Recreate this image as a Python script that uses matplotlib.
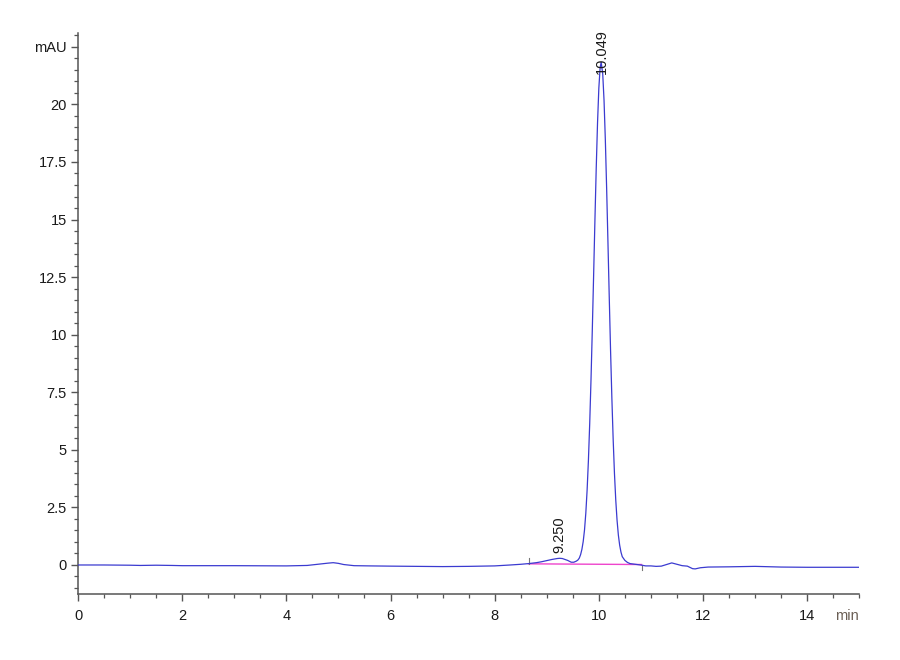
import matplotlib
matplotlib.use("Agg")
import matplotlib.pyplot as plt
import matplotlib.transforms as mtrans
from matplotlib.ticker import MultipleLocator

# ---- data ----
time_min = [0.0, 0.5, 1.0, 1.2, 1.5, 1.8, 2.0, 3.0, 4.0, 4.4, 4.6, 4.8, 4.9, 5.0, 5.1,
            5.3, 5.6, 6.0, 6.5, 7.0, 7.5, 8.0, 8.3, 8.5, 8.65, 8.8, 8.9, 9.0, 9.1,
            9.2, 9.25, 9.3, 9.4, 9.47, 9.52, 9.57, 9.6, 9.625, 9.65, 9.675, 9.7,
            9.725, 9.75, 9.775, 9.8, 9.825, 9.85, 9.875, 9.9, 9.925, 9.95, 9.975,
            10.0, 10.025, 10.045, 10.075, 10.1, 10.125, 10.15, 10.175, 10.2,
            10.225, 10.25, 10.275, 10.3, 10.325, 10.35, 10.375, 10.4, 10.425,
            10.45, 10.5, 10.55, 10.6, 10.7, 10.8, 10.9, 11.0, 11.1, 11.2, 11.3,
            11.4, 11.5, 11.6, 11.7, 11.8, 11.85, 11.95, 12.1, 12.5, 13.0, 13.5,
            14.0, 14.5, 15.0]
signal_mAU = [0.0, 0.0, -0.01, -0.02, -0.01, -0.02, -0.03, -0.03, -0.04, -0.02, 0.03,
              0.08, 0.10, 0.07, 0.02, -0.03, -0.04, -0.05, -0.06, -0.07, -0.06,
              -0.04, 0.0, 0.03, 0.06, 0.10, 0.14, 0.19, 0.24, 0.28, 0.29, 0.28,
              0.20, 0.12, 0.12, 0.17, 0.22, 0.30, 0.45, 0.68, 1.02, 1.52, 2.25,
              3.25, 4.54, 6.15, 8.07, 10.24, 12.58, 14.97, 17.23, 19.19, 20.70,
              21.60, 21.83, 21.32, 20.17, 18.46, 16.35, 14.02, 11.63, 9.34, 7.27,
              5.47, 3.98, 2.82, 1.94, 1.30, 0.86, 0.56, 0.36, 0.20, 0.11, 0.06,
              0.03, 0.0, -0.04, -0.04, -0.06, -0.05, 0.02, 0.09, 0.03, -0.03,
              -0.05, -0.16, -0.17, -0.12, -0.09, -0.08, -0.06, -0.09, -0.10,
              -0.10, -0.10]

baseline_t = [8.65, 10.82]
baseline_v = [0.05, 0.02]

peak_times = [9.250, 10.049]
peak_labels = ["9.250", "10.049"]
peak_label_y = [0.5, 21.3]

y_ticks = [0, 2.5, 5, 7.5, 10, 12.5, 15, 17.5, 20, 22.5]
y_tick_labels = ["0", "2.5", "5", "7.5", "10", "12.5", "15", "17.5", "20", "mAU"]
x_ticks = [0, 2, 4, 6, 8, 10, 12, 14]
x_tick_labels = ["0", "2", "4", "6", "8", "10", "12", "14"]
x_unit = "min"

# ---- figure ----
fig = plt.figure(figsize=(9, 6.6), dpi=100)
ax = fig.add_axes([0.0867, 0.1, 0.868, 0.85])

ax.plot(baseline_t, baseline_v, color="#ee44cc", lw=1.0, zorder=2)
ax.plot(time_min, signal_mAU, color="#3b3bd0", lw=0.9, zorder=3)

# baseline start / end marks
ax.plot([baseline_t[0], baseline_t[0]], [baseline_v[0], baseline_v[0] + 0.25],
        color="#777777", lw=0.8, zorder=2)
ax.plot([baseline_t[1], baseline_t[1]], [baseline_v[1], baseline_v[1] - 0.25],
        color="#777777", lw=0.8, zorder=2)

lab_font = ["Liberation Sans", "DejaVu Sans"]
for t, lab, yy in zip(peak_times, peak_labels, peak_label_y):
    ax.text(t, yy, lab, rotation=90, ha="center", va="bottom",
            fontsize=10.5, family=lab_font, color="#1a1a1a", zorder=4)

ax.set_xlim(0, 15)
ax.set_ylim(-1.26, 23.1)

for s in ["top", "right"]:
    ax.spines[s].set_visible(False)
for s in ["left", "bottom"]:
    ax.spines[s].set_color("#555555")
    ax.spines[s].set_linewidth(1.1)

tick_font = ["Liberation Sans", "DejaVu Sans"]
ax.set_yticks(y_ticks)
ax.set_yticklabels(y_tick_labels, family=tick_font, fontsize=10.5, color="#1a1a1a")
ax.set_xticks(x_ticks)
ax.set_xticklabels(x_tick_labels, family=tick_font, fontsize=10.5, color="#1a1a1a")
ax.xaxis.set_minor_locator(MultipleLocator(0.5))
ax.yaxis.set_minor_locator(MultipleLocator(0.5))
ax.tick_params(which="major", direction="out", length=5, width=1.0, color="#555555")
ax.tick_params(axis="x", which="major", pad=6)
ax.tick_params(axis="y", which="major", pad=3)
ax.tick_params(which="minor", direction="out", length=3, width=0.9, color="#555555")

ax.text(15, -1.26, x_unit, ha="right", va="top", family=tick_font, fontsize=10.5,
        color="#6b5f55",
        transform=ax.transData + mtrans.ScaledTranslation(0, -11 / 72, fig.dpi_scale_trans))

fig.savefig("out.png", dpi=100, facecolor="white")
